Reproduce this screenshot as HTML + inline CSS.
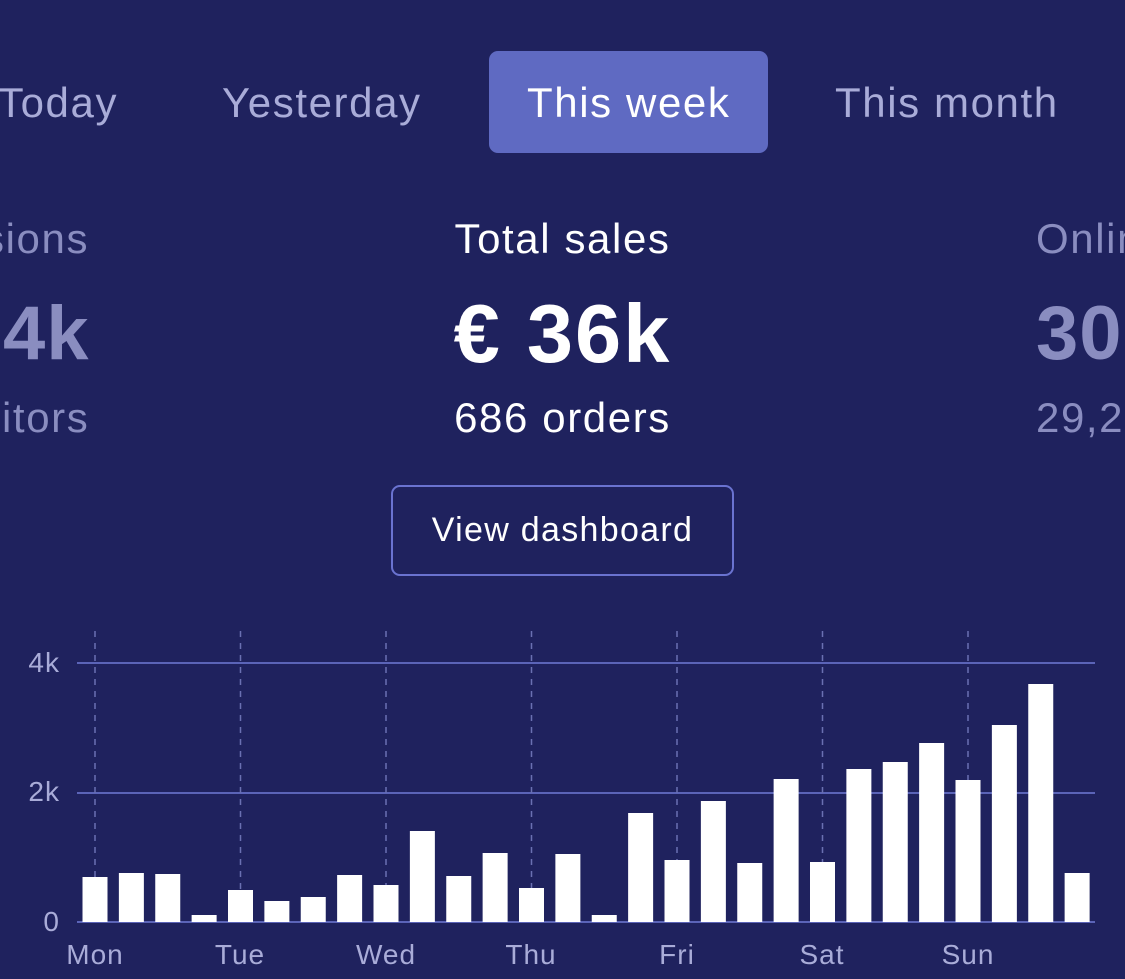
<!DOCTYPE html>
<html><head><style>
html,body{margin:0;padding:0;background:#1f225e;width:1125px;height:979px;overflow:hidden;font-family:"Liberation Sans",sans-serif;}
.t{position:absolute;white-space:nowrap;font-size:42px;letter-spacing:1.6px;color:#a9acd8;}
</style></head><body>
<div style="position:absolute;left:489px;top:51px;width:279px;height:102px;background:#5f6ac2;border-radius:9px"></div>
<div class="t" style="left:-2px;top:79px">Today</div>
<div class="t" style="left:222px;top:79px">Yesterday</div>
<div class="t" style="left:527px;top:79px;color:#fff">This week</div>
<div class="t" style="left:835px;top:79px">This month</div>
<div class="t" style="left:-17px;top:215px;color:#8a8dc0">sions</div>
<div class="t" style="left:3px;top:290px;font-size:76px;letter-spacing:1px;font-weight:bold;color:#8a8dc0">4k</div>
<div class="t" style="left:2px;top:394px;color:#8a8dc0">itors</div>
<div class="t" style="left:1036px;top:215px;color:#8a8dc0">Onlin</div>
<div class="t" style="left:1036px;top:290px;font-size:76px;letter-spacing:1px;font-weight:bold;color:#8a8dc0">30</div>
<div class="t" style="left:1036px;top:394px;color:#8a8dc0">29,2</div>
<div class="t" style="left:0;width:1125px;text-align:center;top:215px;color:#fff">Total sales</div>
<div class="t" style="left:0;width:1125px;text-align:center;top:286px;font-size:83px;letter-spacing:2px;font-weight:bold;color:#fff">€ 36k</div>
<div class="t" style="left:0;width:1125px;text-align:center;top:394px;color:#fff">686 orders</div>
<div style="position:absolute;left:391px;top:485px;width:339px;height:87px;border:2px solid #6a73d0;border-radius:9px;color:#fff;font-size:34px;letter-spacing:1.3px;text-align:center;line-height:87px">View dashboard</div>
<svg width="1125" height="979" style="position:absolute;left:0;top:0" id="s">
<g stroke="#5b64b8" stroke-width="2">
<line x1="77" y1="663" x2="1095" y2="663"/><line x1="77" y1="793" x2="1095" y2="793"/><line x1="77" y1="922" x2="1095" y2="922"/>
</g>
<g stroke="#6a70b2" stroke-width="1.5" stroke-dasharray="6,6" id="v"></g>
<g fill="#fff" id="b"></g>
<g fill="#a9acd8" font-size="28" letter-spacing="1" font-family="Liberation Sans,sans-serif">
<text x="60" y="672" text-anchor="end">4k</text><text x="60" y="801" text-anchor="end">2k</text><text x="60" y="931" text-anchor="end">0</text>
<g text-anchor="middle">
<text x="95" y="964">Mon</text><text x="240" y="964">Tue</text><text x="386" y="964">Wed</text><text x="531" y="964">Thu</text><text x="677" y="964">Fri</text><text x="822" y="964">Sat</text><text x="968" y="964">Sun</text>
</g></g>
</svg>
<script>
var tops=[877,873,874,915,890,901,897,875,885,831,876,853,888,854,915,813,860,801,863,779,862,769,762,743,780,725,684,873];
var b=document.getElementById('b'),v=document.getElementById('v'),ns="http://www.w3.org/2000/svg";
for(var d=0;d<7;d++){var x=95+d*145.5;var l=document.createElementNS(ns,'line');l.setAttribute('x1',x);l.setAttribute('x2',x);l.setAttribute('y1',631);l.setAttribute('y2',922);v.appendChild(l);}
tops.forEach(function(t,i){var c=95+i*36.375;var r=document.createElementNS(ns,'rect');r.setAttribute('x',c-12.5);r.setAttribute('width',25);r.setAttribute('y',t);r.setAttribute('height',922-t);b.appendChild(r);});
</script>
</body></html>
